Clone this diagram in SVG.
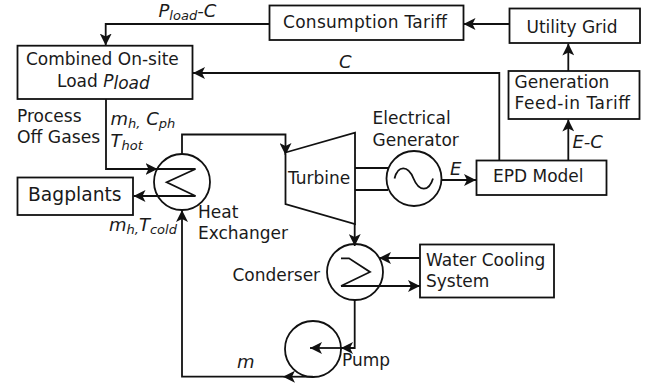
<svg xmlns="http://www.w3.org/2000/svg" width="656" height="385" viewBox="0 0 656 385">
<style>
text{font-family:"DejaVu Sans",Verdana,sans-serif;font-size:17px;fill:#1a1a1a}
.i{font-style:italic;font-size:18px}
.p{font-style:italic;font-size:17px}
.s{font-size:13px}
.b{fill:#fff;stroke:#111;stroke-width:1.8}
.n{fill:none;stroke:#111;stroke-width:1.8}
.c{fill:none;stroke:#111;stroke-width:1.8}
.a{marker-end:url(#ah)}
</style>
<defs>
<marker id="ah" markerUnits="userSpaceOnUse" markerWidth="13" markerHeight="12" refX="12" refY="6" orient="auto"><path d="M0 0L12 6L0 12L3 6Z" fill="#111"/></marker>
</defs>
<g id="connectors">
<path class="c a" d="M269 24H105.700V45.500"/>
<path class="c a" d="M509.500 24H463.500"/>
<path class="c a" d="M568.300 71V43.500"/>
<path class="c a" d="M568.300 160V119.500"/>
<path class="c a" d="M499.300 160V73H193"/>
<path class="c a" d="M441.500 180H476"/>
<path class="c a" d="M106 99V169H157.500"/>
<path class="c a" d="M195.500 196H133.500"/>
<path class="c a" d="M182 154V134.500H285.500V155"/>
<path class="c" d="M355 168H388M355 190H388"/>
<path class="c a" d="M354.700 224V246"/>
<path class="c a" d="M419.500 258H379"/>
<path class="c a" d="M341 286H420"/>
<path class="c a" d="M354.700 300V348H341"/>
<path class="c a" d="M341 348H310"/>
<path class="c a" d="M313 376.700H283"/>
<path class="c a" d="M283 376.700H182V210"/>
</g>
<g id="consumption-tariff"><rect class="b" x="269.500" y="5.500" width="194" height="34.500"/><text x="283" y="28" textLength="164">Consumption Tariff</text></g>
<g id="utility-grid"><rect class="b" x="509.500" y="8.500" width="130.500" height="34.500"/><text x="526.500" y="33">Utility Grid</text></g>
<g id="generation-feed-in-tariff"><rect class="b" x="508.500" y="71" width="131" height="48"/><text x="514.500" y="88">Generation</text><text x="514.500" y="109" textLength="115.500">Feed-in Tariff</text></g>
<g id="epd-model"><rect class="b" x="476.500" y="160.500" width="130" height="34.500"/><text x="493" y="182">EPD Model</text></g>
<g id="combined-load"><rect class="b" x="17.500" y="45.700" width="175" height="53.300"/><text x="26" y="65">Combined On-site</text><text x="57" y="87">Load <tspan class="p">P</tspan><tspan class="p" dy="2">load</tspan></text></g>
<g id="bagplants"><rect class="b" x="17.500" y="177.500" width="115.500" height="37.500"/><text x="28" y="201" style="font-size:18.700px">Bagplants</text></g>
<g id="water-cooling"><rect class="b" x="420" y="244.500" width="134" height="53"/><text x="426" y="265.500">Water Cooling</text><text x="426" y="286.500">System</text></g>
<g id="heat-exchanger"><circle class="n" cx="182" cy="182" r="28"/><path class="n" d="M157 169H195.500L166.700 182.300L195.500 196"/><text x="198" y="218">Heat</text><text x="198" y="239">Exchanger</text></g>
<g id="turbine"><path class="b" d="M285.500 152.500L355 132.700V224L285.500 204Z"/><text x="288" y="184">Turbine</text></g>
<g id="generator"><circle class="b" cx="414" cy="178.500" r="27.500"/><path class="n" d="M394.500 178.500C398 165 408 165 413.500 178.500C419 192 429 192 433 178.500"/><text x="372.500" y="124">Electrical</text><text x="372.500" y="145.500">Generator</text></g>
<g id="condenser"><circle class="n" cx="355" cy="272" r="28"/><path class="n" d="M341 258.300H349L370 272L341 286"/><text x="232.500" y="280.500">Conderser</text></g>
<g id="pump"><circle class="n" cx="313" cy="349" r="28"/><text x="342" y="366">Pump</text></g>
<g id="labels">
<text class="i" x="158.500" y="17">P<tspan class="s" dy="3">load</tspan><tspan dy="-3" style="font-size:18px">-C</tspan></text>
<text class="i" x="339" y="68">C</text>
<text x="17" y="121.500">Process</text>
<text x="17" y="142.500" style="font-size:17.200px">Off Gases</text>
<text class="i" x="110.500" y="125">m<tspan class="s" dy="3">h,</tspan><tspan dy="-3" style="font-size:18px"> C</tspan><tspan class="s" dy="3">ph</tspan></text>
<text class="i" x="110.500" y="147">T<tspan class="s" dy="3">hot</tspan></text>
<text class="i" x="109" y="231">m<tspan class="s" dy="3">h,</tspan><tspan dy="-3" style="font-size:18px">T</tspan><tspan class="s" dy="3">cold</tspan></text>
<text class="i" x="450" y="174.500">E</text>
<text class="i" x="572.500" y="147.500">E-C</text>
<text class="i" x="237" y="367.500">m</text>
</g>
</svg>
